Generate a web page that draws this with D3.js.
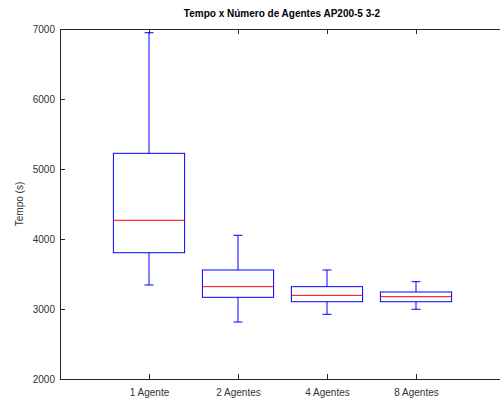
<!DOCTYPE html>
<html>
<head>
<meta charset="utf-8">
<script src="https://cdn.jsdelivr.net/npm/d3@7"></script>
<style>
  body { margin: 0; background: #fff; }
  svg text { font-family: "Liberation Sans", Arial, Helvetica, sans-serif; }
</style>
</head>
<body>
<div id="chart"></div>
<script>
// categories + box stats
const groups = ["1 Agente", "2 Agentes", "4 Agentes", "8 Agentes"];
const whiskerLow  = [3343, 2814, 2924, 2996];
const q1          = [3804, 3167, 3104, 3104];
const median      = [4267, 3319, 3195, 3176];
const q3          = [5224, 3557, 3319, 3243];
const whiskerHigh = [6947, 4053, 3557, 3390];
const yTicks = [2000, 3000, 4000, 5000, 6000, 7000];

const width = 500, height = 403;
const margin = {top: 29, left: 60, bottom: 24};

const svg = d3.select("#chart").append("svg")
    .attr("width", width)
    .attr("height", height);

// x is numeric position 1..4, axes run 0..5 like matlab boxplot
let x = d3.scaleLinear().domain([0, 5]).range([margin.left, 505]);
let y = d3.scaleLinear().domain([2000, 7000]).range([height - margin.bottom, margin.top]);

const axisColor = "#262626";

// axes
svg.append("g")
    .attr("transform", `translate(0,${y(2000)})`)
    .call(d3.axisBottom(x).tickValues([1, 2, 3, 4]).tickSize(-5).tickFormat((d) => groups[d - 1]))
    .call(g => g.select(".domain").attr("stroke", axisColor))
    .call(g => g.selectAll(".tick line").attr("stroke", axisColor))
    .call(g => g.selectAll(".tick text").attr("dy", 0).attr("y", 17).attr("font-size", 10).attr("fill", "#333"));

svg.append("g")
    .attr("transform", `translate(0,${y(7000)})`)
    .call(d3.axisTop(x).tickValues([1, 2, 3, 4]).tickSize(-5).tickFormat(""))
    .call(g => g.select(".domain").attr("stroke", axisColor))
    .call(g => g.selectAll(".tick line").attr("stroke", axisColor));

svg.append("g")
    .attr("transform", `translate(${margin.left},0)`)
    .call(d3.axisLeft(y).tickValues(yTicks).tickSize(-5).tickPadding(5).tickFormat(d3.format("d")))
    .call(g => g.select(".domain").attr("stroke", axisColor))
    .call(g => g.selectAll(".tick line").attr("stroke", axisColor))
    .call(g => g.selectAll(".tick text").attr("font-size", 10).attr("fill", "#333"));

// boxes
let data = groups.map((g, i) => ({
    pos: i + 1, lo: whiskerLow[i], q1: q1[i], med: median[i], q3: q3[i], hi: whiskerHigh[i]
}));

let boxW = (x(1) - x(0)) * 0.8;
let capW = 9;

let boxes = svg.append("g").selectAll("g")
    .data(data)
    .enter()
    .append("g");

boxes.append("line")
    .attr("x1", d => x(d.pos)).attr("x2", d => x(d.pos))
    .attr("y1", d => y(d.q3)).attr("y2", d => y(d.hi))
    .attr("stroke", "#0000ff").attr("stroke-width", 1);
boxes.append("line")
    .attr("x1", d => x(d.pos)).attr("x2", d => x(d.pos))
    .attr("y1", d => y(d.q1)).attr("y2", d => y(d.lo))
    .attr("stroke", "#0000ff").attr("stroke-width", 1);
boxes.append("line")
    .attr("x1", d => x(d.pos) - capW / 2).attr("x2", d => x(d.pos) + capW / 2)
    .attr("y1", d => y(d.hi)).attr("y2", d => y(d.hi))
    .attr("stroke", "#0000ff").attr("stroke-width", 1);
boxes.append("line")
    .attr("x1", d => x(d.pos) - capW / 2).attr("x2", d => x(d.pos) + capW / 2)
    .attr("y1", d => y(d.lo)).attr("y2", d => y(d.lo))
    .attr("stroke", "#0000ff").attr("stroke-width", 1);
boxes.append("rect")
    .attr("x", d => x(d.pos) - boxW / 2)
    .attr("y", d => y(d.q3))
    .attr("width", boxW)
    .attr("height", d => y(d.q1) - y(d.q3))
    .attr("fill", "none")
    .attr("stroke", "#0000ff").attr("stroke-width", 1);
boxes.append("line")
    .attr("x1", d => x(d.pos) - boxW / 2).attr("x2", d => x(d.pos) + boxW / 2)
    .attr("y1", d => y(d.med)).attr("y2", d => y(d.med))
    .attr("stroke", "#ff0000").attr("stroke-width", 1);

// title + y label
svg.append("text")
    .attr("x", 282).attr("y", 17)
    .attr("text-anchor", "middle")
    .attr("font-size", 10).attr("font-weight", "bold")
    .text("Tempo x Número de Agentes AP200-5 3-2");

svg.append("text")
    .attr("transform", `translate(23,${(y(2000) + y(7000)) / 2}) rotate(-90)`)
    .attr("text-anchor", "middle")
    .attr("font-size", 10).attr("fill", "#333")
    .text("Tempo (s)");
</script>
</body>
</html>
